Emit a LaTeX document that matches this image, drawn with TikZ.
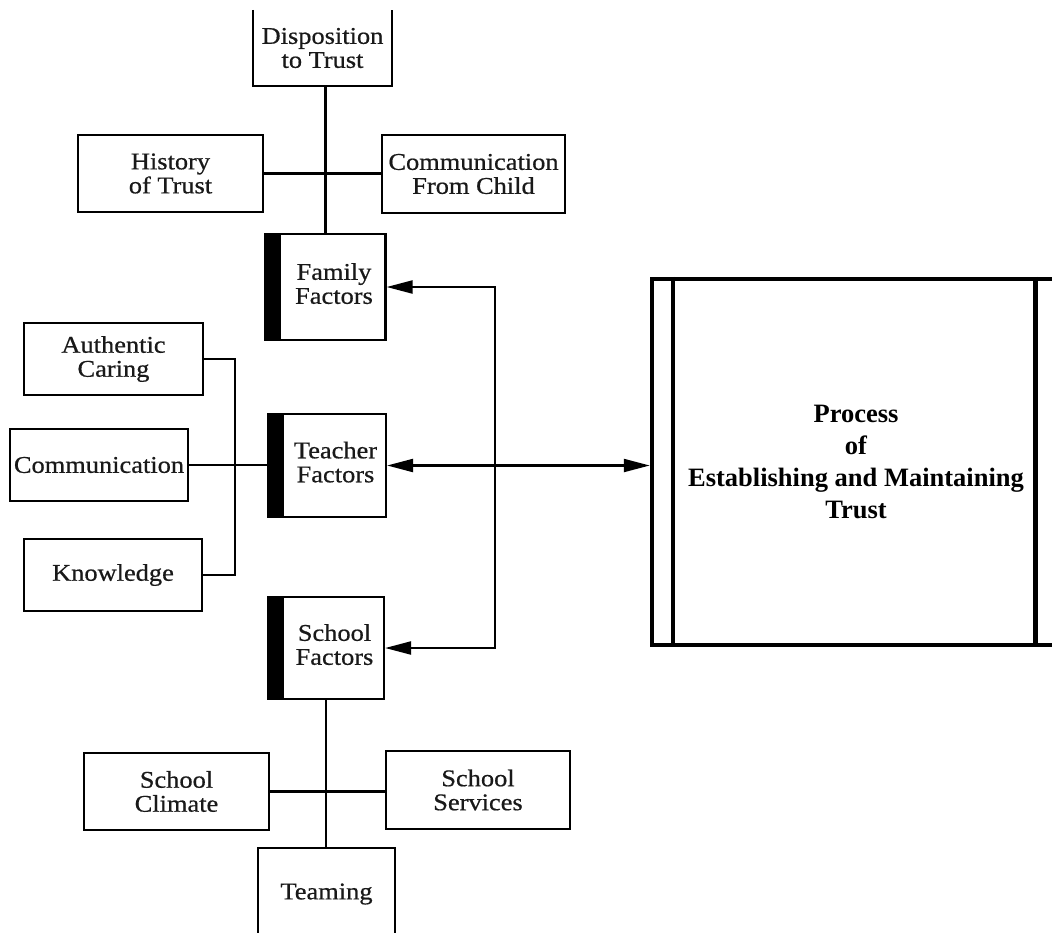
\documentclass[tikz,border=0pt]{standalone}
\usepackage{fontspec}
\setmainfont{Liberation Serif}[FakeStretch=1.1, FakeBold=0.6]
\newfontfamily\procfont{Liberation Serif}
\usetikzlibrary{arrows.meta}

% text of a factor box, pushed right of its black bar
\newcommand\barred[1]{\hspace*{17pt}\begin{tabular}{@{}c@{}}#1\end{tabular}}

\begin{document}
\begin{tikzpicture}[x=1pt, y=-1pt,
  lbl/.style={font=\fontsize{24}{24}\selectfont, align=center, inner sep=0pt, text=black!90},
  itembox/.style={lbl, draw, line width=2.2pt},
  link/.style={line width=2.2pt},
  flow/.style={link, {Triangle[length=26pt,width=13pt]}-{Triangle[length=26pt,width=13pt]}}]

\useasboundingbox (0,0) rectangle (1052,932);
\fill[white] (0,0) rectangle (1052,932);
\clip (0,0) rectangle (1052,932);

% family side
\node[lbl, minimum width=139pt, minimum height=76pt] (disp) at (322.5,48) {Disposition\\to Trust};
\draw[link] (disp.north west) -- (disp.south west) -- (disp.south east) -- (disp.north east);
\node[itembox, minimum width=185pt, minimum height=77pt] (hist) at (170.5,173.5) {History\\of Trust};
\node[itembox, minimum width=183pt, minimum height=78pt] (cfc) at (473.5,174) {Communication\\From Child};
\node[itembox, minimum width=120pt, minimum height=106pt] (fam) at (325.5,287) {\barred{Family\\Factors}};
\fill (fam.north west) rectangle ([xshift=17pt]fam.south west);

% teacher side
\node[itembox, minimum width=179pt, minimum height=72pt] (auth) at (113.5,359) {Authentic\\Caring};
\node[itembox, minimum width=178pt, minimum height=72pt] (comm) at (99,465) {Communication};
\node[itembox, minimum width=178pt, minimum height=72pt] (know) at (113,575) {Knowledge};
\node[itembox, minimum width=118pt, minimum height=103pt] (tea) at (327,465.5) {\barred{Teacher\\Factors}};
\fill (tea.north west) rectangle ([xshift=17pt]tea.south west);

% school side
\node[itembox, minimum width=116pt, minimum height=102pt] (sch) at (326,648) {\barred{School\\Factors}};
\fill (sch.north west) rectangle ([xshift=17pt]sch.south west);
\node[itembox, minimum width=185pt, minimum height=77pt] (clim) at (176.5,791.5) {School\\Climate};
\node[itembox, minimum width=184pt, minimum height=78pt] (serv) at (478,790) {School\\Services};
\node[itembox, minimum width=137pt, minimum height=92pt] (team) at (326.5,894) {Teaming};

% trust process
\node[draw, line width=4.5pt, minimum width=408pt, minimum height=366pt, inner sep=0pt,
      align=center, font=\procfont\bfseries\fontsize{26.5}{32}\selectfont] (proc) at (856,462)
      {Process\\of\\Establishing and Maintaining\\Trust};
\draw[line width=4.5pt] ([xshift=23pt]proc.north west) -- ([xshift=23pt]proc.south west);
\draw[line width=4.5pt] ([xshift=-27pt]proc.north east) -- ([xshift=-27pt]proc.south east);

% connectors
\draw[link] (disp.south -| fam.north) -- (fam.north);
\draw[link] (hist.east) -- (hist.east -| cfc.west);
\coordinate (tbus) at (235,465);
\draw[link] (auth.east) -- (auth.east -| tbus) -- (know.east -| tbus) -- (know.east);
\draw[link] (comm.east) -- (comm.east -| tea.west);
\draw[link] (sch.south) -- (sch.south |- team.north);
\draw[link] (clim.east) -- (clim.east -| serv.west);

\coordinate (spine) at (495,465);
\draw[flow] (fam.east) -- (fam.east -| spine) -- (sch.east -| spine) -- (sch.east);
\draw[flow] (tea.east) -- (tea.east -| proc.west);
\end{tikzpicture}
\end{document}
